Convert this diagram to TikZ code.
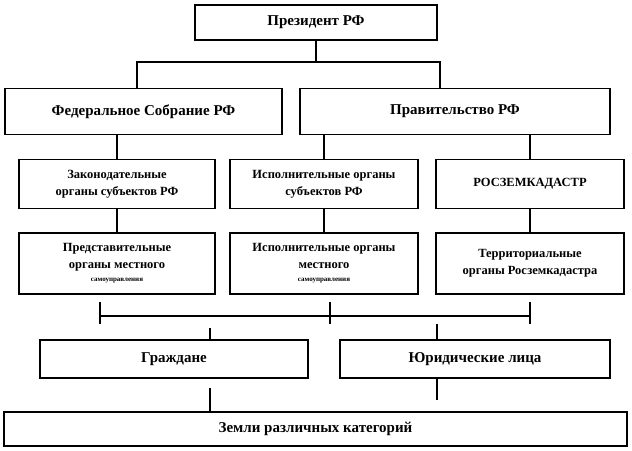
\documentclass[tikz,border=0pt]{standalone}
\usepackage{fontspec}
\setmainfont{Liberation Serif}
\begin{document}
\begin{tikzpicture}[x=1pt,y=-1pt,
  bx/.style={draw,line width=1.6pt,inner sep=1pt,align=center,font=\bfseries\fontsize{15}{17}\selectfont},
  sb/.style={bx,font=\bfseries\fontsize{12.5}{17}\selectfont},
  ln/.style={line width=1.4pt}]
\useasboundingbox (0,0) rectangle (632,450);
\node[bx,minimum width=242,minimum height=35] (p) at (316,22.5) {Президент РФ};
\node[bx,minimum width=277,minimum height=46] (f) at (143.5,111.5) {Федеральное Собрание РФ};
\node[bx,minimum width=310,minimum height=46] (g) at (455,111.5) {Правительство РФ};
\node[sb,minimum width=196,minimum height=49] (a1) at (117,184) {Законодательные\\органы субъектов  РФ};
\node[sb,minimum width=188,minimum height=49] (a2) at (324,184) {Исполнительные органы\\субъектов  РФ};
\node[sb,minimum width=188,minimum height=49] (a3) at (530,184) {РОСЗЕМКАДАСТР};
\node[sb,minimum width=196,minimum height=61,anchor=north] (b1) at (117,232) {Представительные\\органы местного\\[-4pt]{\fontsize{7}{7}\selectfont самоуправления}};
\node[sb,minimum width=188,minimum height=61,anchor=north] (b2) at (324,232) {Исполнительные органы\\местного\\[-4pt]{\fontsize{7}{7}\selectfont самоуправления}};
\node[sb,minimum width=188,minimum height=61,anchor=north] (b3) at (530,232) {Территориальные\\органы Росземкадастра};
\node[bx,minimum width=268,minimum height=38] (c1) at (174,359) {Граждане};
\node[bx,minimum width=270,minimum height=38] (c2) at (475,359) {Юридические лица};
\node[bx,minimum width=623,minimum height=34] (d) at (315.5,429) {Земли различных категорий};
\coordinate (t) at (316,62);
\draw[ln] (p.south) -- (t);
\draw[ln] (137,88) -- (137,62) -- (440,62) -- (440,88);
\draw[ln] (f.south -| a1) -- (a1.north);
\draw[ln] (g.south -| a2) -- (a2.north);
\draw[ln] (g.south -| a3) -- (a3.north);
\draw[ln] (a1) -- (b1.north);
\draw[ln] (a2) -- (b2.north);
\draw[ln] (a3) -- (b3.north);
\draw[ln] (100,302) -- (100,324) (330,302) -- (330,324) (530,302) -- (530,324);
\draw[ln] (100,316) -- (530,316);
\draw[ln] (210,328) -- (c1.north -| 210,0);
\draw[ln] (437,324) -- (c2.north -| 437,0);
\draw[ln] (210,388) -- (d.north -| 210,0);
\draw[ln] (c2.south -| 437,0) -- (437,400);
\end{tikzpicture}
\end{document}
